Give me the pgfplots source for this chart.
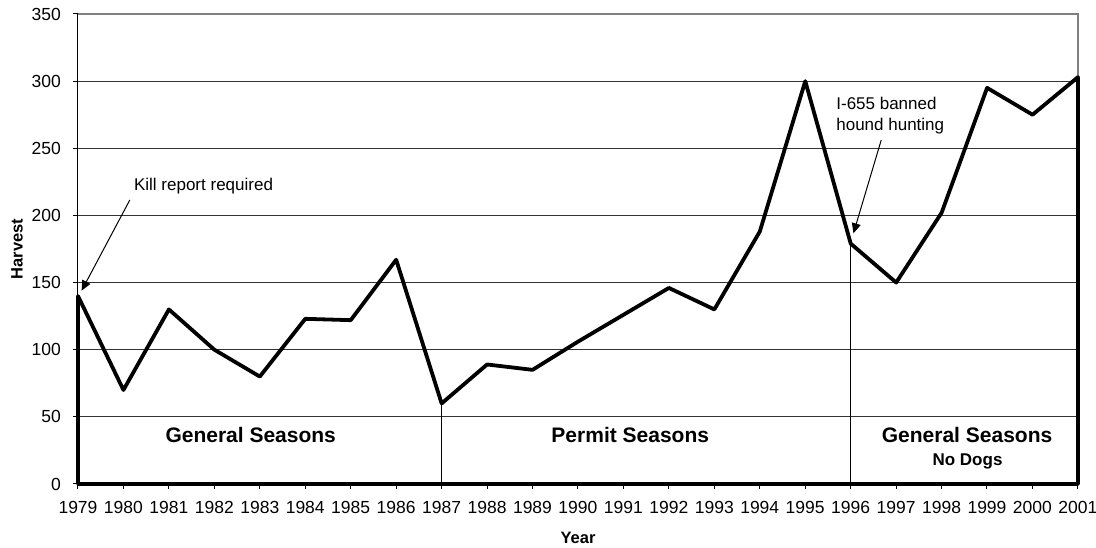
\documentclass[border=0pt]{standalone}
\usepackage{pgfplots}
\pgfplotsset{compat=1.18}
\usepackage{pgfplotstable}
\usetikzlibrary{arrows.meta}
\usepackage{fontspec}
\setmainfont{Liberation Sans}
\pgfplotstableread{
year harvest
1979 140
1980 70
1981 130
1982 100
1983 80
1984 123
1985 122
1986 167
1987 60
1988 89
1989 85
1990 106
1991 126
1992 146
1993 130
1994 188
1995 300
1996 179
1997 150
1998 202
1999 295
2000 275
2001 303
}\harvestdata
\begin{document}
\begin{tikzpicture}
\path[use as bounding box] (-78pt,-64pt) rectangle (1018pt,484pt);
\begin{axis}[
  at={(0,0)}, anchor=south west,
  scale only axis, width=1000pt, height=470pt,
  xmin=1979, xmax=2001, ymin=0, ymax=350,
  xtick={1979,...,2001}, ytick={0,50,...,350},
  axis lines=left, axis line style={-, black, line width=1pt},
  tick align=outside, major tick length=5pt,
  tick style={black, line width=1pt},
  ymajorgrids, grid style={black!80, line width=0.8pt},
  clip=false,
  /pgf/number format/assume math mode=true,
  /pgf/number format/1000 sep={},
  tick label style={font=\fontsize{17.5}{20}\selectfont, inner sep=0pt},
  xticklabel style={anchor=north, yshift=-12.5pt},
  yticklabel style={anchor=east, xshift=-12pt},
  xlabel={\bfseries Year}, ylabel={\bfseries Harvest},
  label style={font=\fontsize{16.5}{19}\selectfont},
  xlabel style={at={(axis description cs:0.5,-0.115)}, anchor=center},
  ylabel style={at={(axis description cs:-0.061,0.5)}, anchor=center},
]
\draw[black!50, line width=1.2pt] (rel axis cs:0,1) -- (rel axis cs:1,1) -- (rel axis cs:1,0);
\addplot[black, line width=1pt] coordinates {(1987,0) (1987,60)};
\addplot[black, line width=1pt] coordinates {(1996,0) (1996,179)};
\addplot[black, line width=3.8pt, line join=round] table[x=year, y=harvest] {\harvestdata} \closedcycle;
\draw[-{Triangle[length=10pt,width=9pt]}, line width=1pt] (axis cs:1980.14,211.5) -- (axis cs:1979.08,144);
\draw[-{Triangle[length=10pt,width=9pt]}, line width=1pt] (axis cs:1996.67,256) -- (axis cs:1996.06,186.7);
\node[anchor=base west, inner sep=0, font=\fontsize{17}{20}\selectfont] at (axis cs:1980.23,218.2) {Kill report required};
\node[anchor=base west, inner sep=0, font=\fontsize{17}{20}\selectfont] at (axis cs:1995.68,279.0) {I-655 banned};
\node[anchor=base west, inner sep=0, font=\fontsize{17}{20}\selectfont] at (axis cs:1995.68,263.0) {hound hunting};
\node[anchor=base, inner sep=0, font=\fontsize{21}{24}\selectfont\bfseries] at (axis cs:1982.8,31.2) {General Seasons};
\node[anchor=base, inner sep=0, font=\fontsize{21}{24}\selectfont\bfseries] at (axis cs:1991.15,31.2) {Permit Seasons};
\node[anchor=base, inner sep=0, font=\fontsize{21}{24}\selectfont\bfseries] at (axis cs:1998.56,30.8) {General Seasons};
\node[anchor=base, inner sep=0, font=\fontsize{17}{20}\selectfont\bfseries] at (axis cs:1998.57,14.1) {No Dogs};
\end{axis}
\end{tikzpicture}
\end{document}
